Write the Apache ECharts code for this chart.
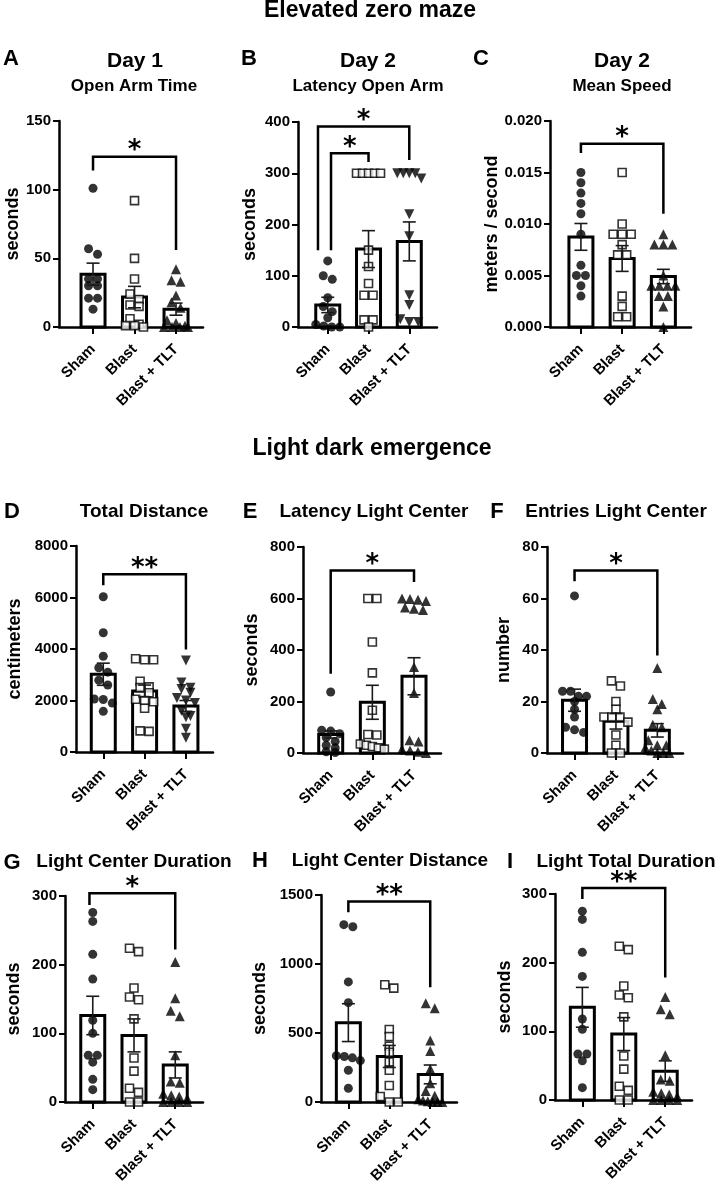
<!DOCTYPE html>
<html><head><meta charset="utf-8">
<script src="https://cdn.jsdelivr.net/npm/echarts@6/dist/echarts.min.js"></script>
<style>html,body{margin:0;padding:0;background:#fff}#chart{width:719px;height:1186px}</style>
</head><body><div id="chart"></div>
<script>
const GROUPS = ['Sham', 'Blast', 'Blast + TLT'];
const SECTION_TITLES = ['Elevated zero maze', 'Light dark emergence'];

// ---- Panel A: Day 1 Open Arm Time (seconds)
const A_sham  = [101, 57, 53, 35, 35, 30, 30, 21, 21, 13];
const A_blast = [92, 50, 35, 24, 20, 16, 15, 6, 2, 1, 1, 0];
const A_tlt   = [42, 34, 33, 23, 18, 14, 5, 3, 1, 0, 0, 0, 0];
const A_mean  = [38.5, 21.8, 13];
const A_sem   = [8, 7.8, 4.4];
const A_sig   = [[0, 2, 124, 114, 56]];
const A_sigLabels = ['*'];

// ---- Panel B: Day 2 Latency Open Arm (seconds)
const B_sham  = [129, 100, 93, 57, 40, 30, 18, 5, 2, 0, 0];
const B_blast = [300, 300, 300, 300, 300, 150, 118, 85, 62, 62, 14, 14, 0];
const B_tlt   = [300, 300, 300, 300, 290, 220, 177, 62, 43, 15, 10, 10];
const B_mean  = [43, 152, 167];
const B_sem   = [15, 36, 38];
const B_sig   = [[-0.24, 2, 391, 150, 326], [0.08, 1, 339, 150, 322]];
const B_sigLabels = ['*', '*'];

// ---- Panel C: Day 2 Mean Speed (meters / second)
const C_sham  = [0.015, 0.014, 0.013, 0.012, 0.011, 0.009, 0.006, 0.005, 0.005, 0.004, 0.003];
const C_blast = [0.015, 0.010, 0.009, 0.009, 0.009, 0.008, 0.007, 0.007, 0.003, 0.002, 0.001, 0.001];
const C_tlt   = [0.009, 0.008, 0.008, 0.008, 0.005, 0.004, 0.004, 0.004, 0.004, 0.003, 0.003, 0.002, 0.000];
const C_mean  = [0.00875, 0.00665, 0.0049];
const C_sem   = [0.0013, 0.00125, 0.0007];
const C_sig   = [[0, 2, 0.0178, 0.0169, 0.0110]];
const C_sigLabels = ['*'];

// ---- Panel D: Total Distance (centimeters)
const D_sham  = [6030, 4630, 3720, 3270, 3100, 2790, 2600, 2060, 2040, 1900, 1580];
const D_blast = [3620, 3580, 3580, 2750, 2530, 2500, 2300, 2050, 2000, 1950, 1700, 820, 800];
const D_tlt   = [3550, 2700, 2500, 2450, 2300, 2100, 2000, 1900, 1600, 1400, 1350, 900, 550];
const D_mean  = [3020, 2370, 1790];
const D_sem   = [430, 230, 210];
const D_sig   = [[0, 2, 6900, 6480, 3980]];
const D_sigLabels = ['**'];

// ---- Panel E: Latency Light Center (seconds)
const E_sham  = [237, 88, 85, 75, 60, 45, 30, 20, 5, 2];
const E_blast = [600, 600, 431, 311, 166, 72, 70, 35, 30, 25, 20, 15];
const E_tlt   = [600, 598, 595, 590, 565, 560, 555, 334, 233, 50, 45, 15, 10, 5, 0];
const E_mean  = [72, 197, 298];
const E_sem   = [14, 66, 72];
const E_sig   = [[0, 2, 709, 308, 664]];
const E_sigLabels = ['*'];

// ---- Panel F: Entries Light Center (number)
const F_sham  = [61, 24, 24, 22, 22, 20, 17, 14, 10, 9, 8];
const F_blast = [28, 26, 20, 17, 14, 14, 14, 12, 7, 3, 0, 0];
const F_tlt   = [33, 21, 19, 17, 11, 10, 5, 3, 3, 2, 1, 0, 0, 0];
const F_mean  = [20.5, 12.3, 8.8];
const F_sem   = [4.3, 3, 2.6];
const F_sig   = [[0, 2, 70.9, 66.7, 37.9]];
const F_sigLabels = ['*'];

// ---- Panel G: Light Center Duration (seconds)
const G_sham  = [276, 263, 215, 179, 119, 100, 68, 68, 58, 33, 18];
const G_blast = [224, 219, 166, 153, 149, 121, 64, 45, 20, 14, 0, 0];
const G_tlt   = [204, 151, 133, 125, 68, 30, 28, 12, 10, 8, 5, 0, 0, 0, 0];
const G_mean  = [126, 97, 54];
const G_sem   = [28, 24, 19];
const G_sig   = [[-0.08, 2, 304, 287, 222]];
const G_sigLabels = ['*'];

// ---- Panel H: Light Center Distance (seconds)
const H_sham  = [1285, 1270, 870, 720, 335, 330, 320, 300, 230, 100];
const H_blast = [850, 825, 525, 475, 405, 360, 290, 230, 120, 40, 0, 0];
const H_tlt   = [715, 680, 445, 370, 240, 135, 80, 45, 20, 10, 5, 0, 0, 0];
const H_mean  = [575, 330, 200];
const H_sem   = [137, 80, 68];
const H_sig   = [[0, 2, 1452, 1375, 831]];
const H_sigLabels = ['**'];

// ---- Panel I: Light Total Duration (seconds)
const I_sham  = [275, 263, 215, 180, 118, 103, 67, 67, 57, 18];
const I_blast = [224, 219, 166, 153, 149, 121, 64, 45, 20, 14, 0, 0];
const I_tlt   = [150, 132, 125, 65, 30, 28, 12, 10, 8, 5, 0, 0, 0, 0];
const I_mean  = [135, 96, 42];
const I_sem   = [29, 24, 15];
const I_sig   = [[0, 2, 308.6, 292.6, 178.3]];
const I_sigLabels = ['**'];

// ---- Panel texts and axis scales
const PANEL_LETTERS = ['A', 'B', 'C', 'D', 'E', 'F', 'G', 'H', 'I'];
const PANEL_TITLES = ['Day 1', 'Day 2', 'Day 2', 'Total Distance', 'Latency Light Center', 'Entries Light Center', 'Light Center Duration', 'Light Center Distance', 'Light Total Duration'];
const PANEL_SUBTITLES = ['Open Arm Time', 'Latency Open Arm', 'Mean Speed'];
const Y_NAMES = ['seconds', 'seconds', 'meters / second', 'centimeters', 'seconds', 'number', 'seconds', 'seconds', 'seconds'];
const Y_MAX = [150, 400, 0.02, 8000, 800, 80, 300, 1500, 300];
const Y_INTERVAL = [50, 100, 0.005, 2000, 200, 20, 100, 500, 100];
const Y_DECIMALS = [0, 0, 3, 0, 0, 0, 0, 0, 0];
const TLT_INVERTED = [false, true, false, true, false, false, false, false, false];

const DATA = [
  [A_sham, A_blast, A_tlt, A_mean, A_sem, A_sig, A_sigLabels],
  [B_sham, B_blast, B_tlt, B_mean, B_sem, B_sig, B_sigLabels],
  [C_sham, C_blast, C_tlt, C_mean, C_sem, C_sig, C_sigLabels],
  [D_sham, D_blast, D_tlt, D_mean, D_sem, D_sig, D_sigLabels],
  [E_sham, E_blast, E_tlt, E_mean, E_sem, E_sig, E_sigLabels],
  [F_sham, F_blast, F_tlt, F_mean, F_sem, F_sig, F_sigLabels],
  [G_sham, G_blast, G_tlt, G_mean, G_sem, G_sig, G_sigLabels],
  [H_sham, H_blast, H_tlt, H_mean, H_sem, H_sig, H_sigLabels],
  [I_sham, I_blast, I_tlt, I_mean, I_sem, I_sig, I_sigLabels]
];

// ---- Layout (pixels)
const LAYOUT = [
  {left: 59,  top: 121, width: 144, height: 206, xmin: -0.82,  xmax: 2.65,  nameGap: 34},
  {left: 298, top: 122, width: 139, height: 205, xmin: -0.73,  xmax: 2.68,  nameGap: 39},
  {left: 550, top: 121, width: 141, height: 206, xmin: -0.75,  xmax: 2.67,  nameGap: 49},
  {left: 76,  top: 546, width: 137, height: 206, xmin: -0.66,  xmax: 2.655, nameGap: 52},
  {left: 303, top: 547, width: 138, height: 206, xmin: -0.665, xmax: 2.648, nameGap: 42},
  {left: 547, top: 547, width: 136, height: 206, xmin: -0.665, xmax: 2.62,  nameGap: 34},
  {left: 65,  top: 896, width: 138, height: 206, xmin: -0.673, xmax: 2.673, nameGap: 42},
  {left: 321, top: 895, width: 136, height: 207, xmin: -0.668, xmax: 2.654, nameGap: 52},
  {left: 555, top: 894, width: 137, height: 206, xmin: -0.66,  xmax: 2.646, nameGap: 41}
];
const LETTER_POS = [[11, 59], [249, 59], [481, 59], [12, 512], [250, 512], [497, 512], [12, 863], [260, 861], [510, 862]];
const TITLE_POS = [[135, 61], [368, 61], [622, 61], [144, 512], [374, 512], [616, 512], [134, 862], [390, 861], [626, 862]];
const SUBTITLE_POS = [[134, 86], [368, 86], [622, 86]];
const SECTION_POS = [[370, 11], [372, 449]];

const FONT = '"Liberation Sans", Arial, Helvetica, sans-serif';

function swarm(values, gi, yMax, gridH, spacingPx) {
  const sorted = values.slice().sort((a, b) => b - a);
  const pxPer = gridH / yMax;
  const out = [];
  let i = 0;
  while (i < sorted.length) {
    let j = i + 1;
    while (j < sorted.length && (sorted[i] - sorted[j]) * pxPer < 6) j++;
    const n = j - i;
    const d = n > 1 ? Math.min(9, 24 / (n - 1)) : 0;
    for (let k = 0; k < n; k++) {
      const off = (k - (n - 1) / 2) * d;
      out.push([gi + off / spacingPx, sorted[i + k]]);
    }
    i = j;
  }
  return out;
}

const grids = [], xAxes = [], yAxes = [], series = [], graphics = [];

DATA.forEach((d, p) => {
  const L = LAYOUT[p];
  const spacing = L.width / (L.xmax - L.xmin);
  grids.push({left: L.left, top: L.top, width: L.width, height: L.height, containLabel: false, outerBoundsMode: 'none'});
  xAxes.push({
    type: 'value', gridIndex: p, min: L.xmin, max: L.xmax,
    axisLine: {show: true, onZero: false, lineStyle: {color: '#000', width: 2.5}},
    axisTick: {show: true, customValues: [0, 1, 2], length: 7, lineStyle: {color: '#000', width: 2}},
    axisLabel: {show: true, customValues: [0, 1, 2], rotate: 45, margin: 20,
      formatter: v => GROUPS[Math.round(v)], color: '#000', fontSize: 15, fontWeight: 'bold', fontFamily: FONT},
    splitLine: {show: false}
  });
  yAxes.push({
    type: 'value', gridIndex: p, min: 0, max: Y_MAX[p], interval: Y_INTERVAL[p],
    axisLine: {show: true, onZero: false, lineStyle: {color: '#000', width: 2.5}},
    axisTick: {show: true, length: 6, lineStyle: {color: '#000', width: 2}},
    axisLabel: {color: '#000', fontSize: 15, fontWeight: 'bold', fontFamily: FONT, margin: 8,
      formatter: v => Number(v).toFixed(Y_DECIMALS[p])},
    splitLine: {show: false},
    name: Y_NAMES[p], nameLocation: 'middle', nameGap: L.nameGap,
    nameTextStyle: {color: '#000', fontSize: 18, fontWeight: 'bold', fontFamily: FONT}
  });
  const [sham, blast, tlt, mean, sem, sig, sigLabels] = d;

  // bars
  series.push({
    type: 'custom', xAxisIndex: p, yAxisIndex: p, z: 1, silent: true,
    data: mean.map((m, gi) => [gi, m]),
    encode: {x: 0, y: 1},
    renderItem: (params, api) => {
      const x = api.value(0), m = api.value(1);
      const t = api.coord([x, m]), b = api.coord([x, 0]);
      return {type: 'rect', shape: {x: t[0] - 12, y: t[1], width: 24, height: b[1] - t[1]},
        style: {fill: '#fff', stroke: '#000', lineWidth: 3}};
    }
  });
  // points
  const symSize = 9;
  series.push({type: 'scatter', xAxisIndex: p, yAxisIndex: p, z: 3, silent: true,
    symbol: 'circle', symbolSize: symSize, itemStyle: {color: '#000'},
    data: swarm(sham, 0, Y_MAX[p], L.height, spacing)});
  series.push({type: 'scatter', xAxisIndex: p, yAxisIndex: p, z: 3, silent: true,
    symbol: 'rect', symbolSize: 8, itemStyle: {color: '#fff', borderColor: '#000', borderWidth: 1.6},
    data: swarm(blast, 1, Y_MAX[p], L.height, spacing)});
  series.push({type: 'scatter', xAxisIndex: p, yAxisIndex: p, z: 3, silent: true,
    symbol: 'triangle', symbolSize: 10, symbolRotate: TLT_INVERTED[p] ? 180 : 0, itemStyle: {color: '#000'},
    data: swarm(tlt, 2, Y_MAX[p], L.height, spacing)});
  // error bars
  series.push({
    type: 'custom', xAxisIndex: p, yAxisIndex: p, z: 4, silent: true,
    data: mean.map((m, gi) => [gi, m, sem[gi]]),
    encode: {x: 0, y: 1},
    renderItem: (params, api) => {
      const x = api.value(0), m = api.value(1), s = api.value(2);
      const hi = api.coord([x, m + s]), lo = api.coord([x, Math.max(0, m - s)]);
      const cw = 6.5, st = {stroke: '#1a1a1a', lineWidth: 1.6};
      return {type: 'group', children: [
        {type: 'line', shape: {x1: hi[0], y1: hi[1], x2: lo[0], y2: lo[1]}, style: st},
        {type: 'line', shape: {x1: hi[0] - cw, y1: hi[1], x2: hi[0] + cw, y2: hi[1]}, style: st},
        {type: 'line', shape: {x1: lo[0] - cw, y1: lo[1], x2: lo[0] + cw, y2: lo[1]}, style: st}
      ]};
    }
  });
  // significance brackets
  series.push({
    type: 'custom', xAxisIndex: p, yAxisIndex: p, z: 5, silent: true, clip: false,
    data: sig.map(s => [s[0], s[2]]),
    encode: {x: 0, y: 1},
    renderItem: (params, api) => {
      const s = sig[params.dataIndex];
      const a = api.coord([s[0], s[3]]), b = api.coord([s[0], s[2]]);
      const c = api.coord([s[1], s[2]]), e = api.coord([s[1], s[4]]);
      return {type: 'group', children: [
        {type: 'polyline', shape: {points: [a, b, c, e]}, style: {stroke: '#000', lineWidth: 2.5, fill: null}},
        {type: 'text', x: (b[0] + c[0]) / 2, y: b[1] - 5,
          style: {text: sigLabels[params.dataIndex], align: 'center', verticalAlign: 'middle',
            font: 'bold 26px "DejaVu Sans", sans-serif', fill: '#000'}}
      ]};
    }
  });

  // texts
  graphics.push({type: 'text', x: LETTER_POS[p][0], y: LETTER_POS[p][1],
    style: {text: PANEL_LETTERS[p], align: 'center', verticalAlign: 'middle', font: 'bold 22px ' + FONT, fill: '#000'}});
  graphics.push({type: 'text', x: TITLE_POS[p][0], y: TITLE_POS[p][1],
    style: {text: PANEL_TITLES[p], align: 'center', verticalAlign: 'middle', font: 'bold ' + (p < 3 ? 21 : 19) + 'px ' + FONT, fill: '#000'}});
  if (p < 3) {
    graphics.push({type: 'text', x: SUBTITLE_POS[p][0], y: SUBTITLE_POS[p][1],
      style: {text: PANEL_SUBTITLES[p], align: 'center', verticalAlign: 'middle', font: 'bold 17px ' + FONT, fill: '#000'}});
  }
});
SECTION_TITLES.forEach((t, i) => {
  graphics.push({type: 'text', x: SECTION_POS[i][0], y: SECTION_POS[i][1],
    style: {text: t, align: 'center', verticalAlign: 'middle', font: 'bold 23px ' + FONT, fill: '#000'}});
});

const chart = echarts.init(document.getElementById('chart'), null, {renderer: 'canvas'});
chart.setOption({
  animation: false,
  backgroundColor: '#fff',
  grid: grids, xAxis: xAxes, yAxis: yAxes, series: series, graphic: graphics
});
</script></body></html>
